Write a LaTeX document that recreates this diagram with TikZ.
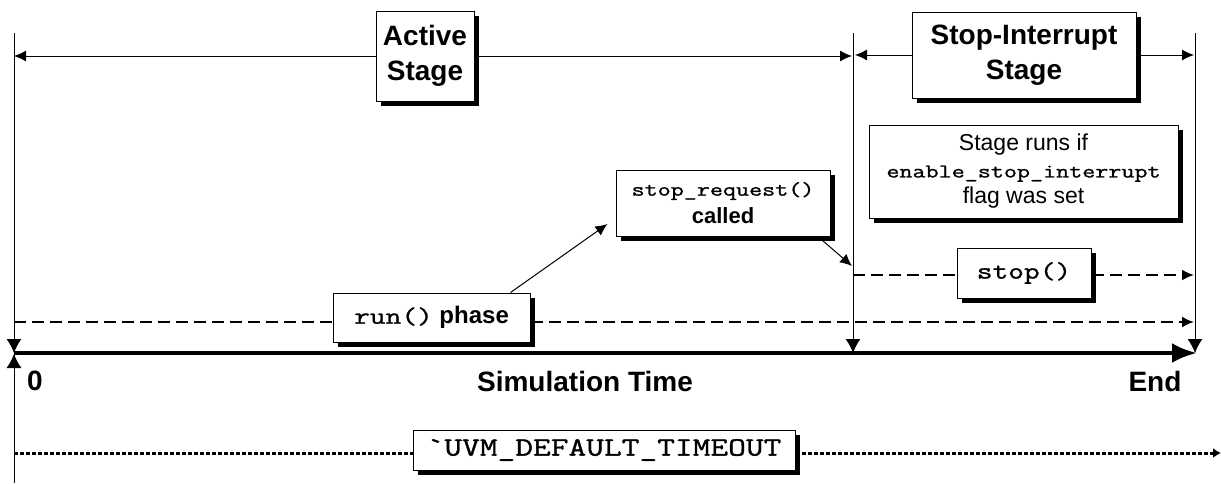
\documentclass[tikz,border=0pt]{standalone}
\usepackage{fontspec}
\setmainfont{Liberation Sans}
\newfontfamily\cmono[FakeStretch=1.3,FakeBold=1.2]{Latin Modern Mono}
\usetikzlibrary{arrows.meta,backgrounds}
\begin{document}
\begin{tikzpicture}[x=1pt,y=-1pt,
  box/.style={draw, line width=1pt, fill=white, align=center, inner sep=0pt,
    preaction={fill=black, transform canvas={xshift=5pt,yshift=-5pt}}},
  thinline/.style={line width=1pt},
  tip/.style={-{Latex[length=12pt,width=11pt]}},
  vtip/.style={-{Latex[length=14pt,width=15pt]}},
  dashline/.style={line width=2.2pt, dash pattern=on 12pt off 6pt},
  dotline/.style={line width=3pt, dash pattern=on 4pt off 2pt},
  big/.style={font=\fontsize{28}{35}\selectfont\bfseries},
]
\useasboundingbox (0,0) rectangle (1221,483);

% coordinates of the vertical lines and axis
\coordinate (L1top) at (14,33);
\coordinate (L1bot) at (14,483);
\coordinate (L1ax) at (14,353);
\coordinate (L2top) at (853,33);
\coordinate (L2ax) at (853,353);
\coordinate (L3top) at (1195,33);
\coordinate (L3ax) at (1195,353);
\coordinate (axend) at (1197,353);
\coordinate (runend) at (1194,322);
\coordinate (runstart) at (14,322);
\coordinate (stopstart) at (853,275);
\coordinate (stopend) at (1194,275);
\coordinate (uvmstart) at (14,453);
\coordinate (uvmend) at (1221,453);
\coordinate (reqend) at (852,266);

% nodes
\node[box, big, minimum width=98pt, minimum height=90pt] (active) at (425,56) {Active\\Stage};
\node[box, big, minimum width=224pt, minimum height=86pt] (stopint) at (1024,55) {Stop-Interrupt\\Stage};
\node[box, minimum width=309pt, minimum height=93pt, font=\fontsize{23}{26.5}\selectfont] (runsif) at (1023.5,171.5)
  {Stage runs if\\{\cmono\fontsize{19.5}{26.5}\selectfont enable\_stop\_interrupt}\\flag was set};
\node[box, minimum width=214pt, minimum height=66pt, font=\fontsize{22}{28}\selectfont] (stopreq) at (723,203)
  {{\cmono\fontsize{19.5}{28}\selectfont stop\_request()}\\\bfseries called};
\node[box, minimum width=134pt, minimum height=50pt, font=\cmono\fontsize{23.5}{30}\selectfont] (stopfn) at (1024,273) {stop()};
\node[box, minimum width=197pt, minimum height=49pt, font=\fontsize{24}{30}\selectfont] (runph) at (431.5,317.5)
  {{\cmono\fontsize{23.5}{30}\selectfont run()} \bfseries phase};
\node[box, minimum width=382pt, minimum height=40pt, font=\cmono\fontsize{26.5}{30}\selectfont] (uvm) at (604,450)
  {`UVM\_DEFAULT\_TIMEOUT};

% vertical lines
\draw[thinline] (L1ax) -- (L1bot);
\draw[thinline, vtip] (L1top) -- (L1ax);
\draw[thinline, vtip] (L1bot |- 0,368) -- ([yshift=-1pt]L1ax);
\draw[thinline, vtip] (L2top) -- (L2ax);
\draw[thinline, vtip] (L3top) -- (L3ax);

% axis
\draw[line width=4.5pt, -{Latex[length=25pt,width=20pt]}] (L1ax) -- (axend);

% top stage arrows
\draw[thinline, tip] (active.west) -- (L1top |- active.west);
\draw[thinline, tip] (active.east) -- ([xshift=-1pt]L2top |- active.east);
\draw[thinline, tip] (stopint.west) -- ([xshift=2pt]L2top |- stopint.west);
\draw[thinline, tip] (stopint.east) -- ([xshift=-1pt]L3top |- stopint.east);

% phase lines
\draw[dashline] (runstart) -- (runstart -| runph.west);
\draw[dashline, tip] (runend -| runph.east) -- (runend);
\draw[dashline] (stopstart) -- (stopstart -| stopfn.west);
\draw[dashline, tip] (stopend -| stopfn.east) -- (stopend);
\draw[dotline] (uvmstart) -- (uvmstart -| uvm.west);
\draw[dotline, -{Latex[length=8pt,width=10pt]}] (uvmend -| uvm.east) -- (uvmend);

% call arrows
\draw[thinline, tip] ([xshift=-20pt]runph.north east) -- ([xshift=-8pt,yshift=-21pt]stopreq.west);
\draw[thinline, tip] ([xshift=-8pt,yshift=-4pt]stopreq.south east) -- (reqend);

% labels
\node[big] (zero) at (35,381) {0};
\node[big] (simtime) at (585,381) {Simulation Time};
\node[big] (endlbl) at (1155,381) {End};
\end{tikzpicture}
\end{document}
